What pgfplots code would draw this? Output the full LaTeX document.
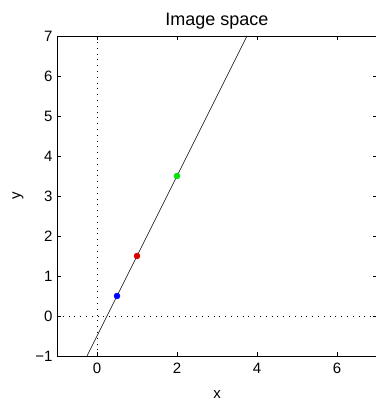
\documentclass[border=0pt]{standalone}
\usepackage{fontspec}
\setmainfont{Liberation Sans}
\usepackage{pgfplots}
\pgfplotsset{compat=1.18}
\begin{document}
\begin{tikzpicture}
\begin{axis}[
  scale only axis,
  width=320bp, height=320bp,
  xmin=-1, xmax=7, ymin=-1, ymax=7,
  xtick={0,2,4,6}, xticklabels={0,2,4,6},
  ytick={-1,0,1,2,3,4,5,6,7}, yticklabels={−1,0,1,2,3,4,5,6,7},
  tick align=inside,
  major tick length=4bp,
  tick style={black, line width=0.5bp},
  axis line style={line width=0.8bp},
  ticklabel style={font=\fontsize{15bp}{18bp}\selectfont},
  xticklabel style={yshift=-4bp},
  yticklabel style={xshift=-1bp},
  label style={font=\fontsize{15bp}{18bp}\selectfont},
  xlabel={x}, ylabel={y},
  xlabel style={yshift=-10bp},
  ylabel style={yshift=5bp},
  title={Image space},
  title style={font=\fontsize{18bp}{21bp}\selectfont, yshift=-3bp},
  clip=true,
]
\addplot[black, dash pattern=on 0.8bp off 5bp, line width=0.6bp, forget plot] coordinates {(0,-1) (0,7)};
\addplot[black, dash pattern=on 0.8bp off 5bp, line width=0.6bp, forget plot] coordinates {(-1,0) (7,0)};
\addplot[only marks, mark=*, mark size=3bp, blue, mark options={fill=blue, draw=blue}] coordinates {(0.5,0.5)};
\addplot[only marks, mark=*, mark size=3bp, color={rgb,1:red,0.85;green,0;blue,0}] coordinates {(1,1.5)};
\addplot[only marks, mark=*, mark size=3bp, color={rgb,1:red,0;green,0.9;blue,0}] coordinates {(2,3.5)};
\addplot[black, line width=0.6bp] coordinates {(-0.25,-1) (3.75,7)};
\end{axis}
\pgfresetboundingbox
\path ([xshift=-57bp,yshift=-45bp]current axis.south west) rectangle ([xshift=-1bp,yshift=36bp]current axis.north east);
\end{tikzpicture}
\end{document}
